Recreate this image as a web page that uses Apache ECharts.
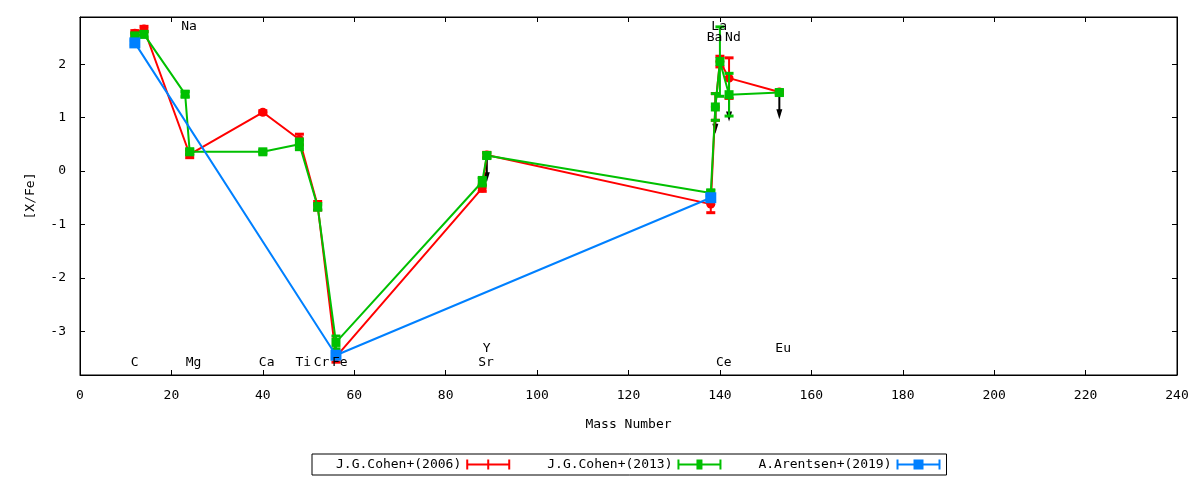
<!DOCTYPE html>
<html>
<head>
<meta charset="utf-8">
<title>[X/Fe] vs Mass Number</title>
<script src="https://cdn.jsdelivr.net/npm/echarts@6/dist/echarts.min.js"></script>
<style>
	html, body { margin: 0; padding: 0; background: #fff; }
	#main { width: 1200px; height: 480px; }
</style>
</head>
<body>
<div id="main"></div>
<script>
// element labels along the top / bottom of the plot
var elemNames = ['C', 'Na', 'Mg', 'Ca', 'Ti', 'Cr', 'Fe', 'Sr', 'Y', 'Ba', 'La', 'Ce', 'Nd', 'Eu'];
var elemMass = [12, 23, 24, 40, 48, 52, 56, 88, 89, 138, 139, 140, 142, 153];
var elemRow = ['bot', 'top', 'bot', 'bot', 'bot', 'bot', 'bot', 'bot', 'bot2', 'top2', 'top', 'bot', 'top2', 'bot2'];

// J.G.Cohen+(2006)
var cohen06Mass = [12, 14, 24, 40, 48, 52, 56, 88, 89, 138, 139, 140, 142, 153];
var cohen06Val = [2.58, 2.66, 0.31, 1.10, 0.59, -0.65, -3.48, -0.32, 0.30, -0.62, 1.20, 2.05, 1.74, 1.48];
var cohen06Err = [0.05, 0.05, 0.06, 0.03, 0.10, 0.08, 0.10, 0.06, 0.05, 0.16, 0.25, 0.10, 0.38, 0.03];

// J.G.Cohen+(2013)
var cohen13Mass = [12, 14, 23, 24, 40, 48, 52, 56, 88, 89, 138, 139, 140, 142, 153];
var cohen13Val = [2.53, 2.56, 1.44, 0.36, 0.36, 0.50, -0.67, -3.21, -0.20, 0.29, -0.41, 1.20, 2.05, 1.43, 1.47];
var cohen13Err = [0.05, 0.05, 0.05, 0.05, 0.03, 0.10, 0.06, 0.12, 0.08, 0.05, 0.05, 0.25, 0.65, 0.40, 0.05];

// A.Arentsen+(2019)
var arentsenMass = [12, 56, 138];
var arentsenVal = [2.40, -3.45, -0.50];
var arentsenErr = [0.04, 0.04, 0.04];

// upper limits (arrows pointing down)
var limitMass = [89, 139, 142, 153];
var limitVal = [0.29, 1.20, 1.43, 1.47];
var limitLen = 0.5;

var yTicks = [-3, -2, -1, 0, 1, 2];

var FONT = '"DejaVu Sans Mono", monospace';
var rowY = { top: 2.70, top2: 2.49, bot: -3.585, bot2: -3.33 };

function zip3(a, b, c) {
	var out = [];
	for (var i = 0; i < a.length; i++) out.push([a[i], b[i], c ? c[i] : 0]);
	return out;
}

function errorBars(color, capHalf) {
	return function (params, api) {
		var x = api.value(0), v = api.value(1), e = api.value(2);
		var hi = api.coord([x, v + e]);
		var lo = api.coord([x, v - e]);
		return {
			type: 'group',
			children: [
				{ type: 'line', shape: { x1: hi[0], y1: hi[1], x2: lo[0], y2: lo[1] }, style: { stroke: color, lineWidth: 2 } },
				{ type: 'line', shape: { x1: hi[0] - capHalf, y1: hi[1], x2: hi[0] + capHalf, y2: hi[1] }, style: { stroke: color, lineWidth: 3 } },
				{ type: 'line', shape: { x1: lo[0] - capHalf, y1: lo[1], x2: lo[0] + capHalf, y2: lo[1] }, style: { stroke: color, lineWidth: 3 } }
			]
		};
	};
}

function lineSeries(name, mass, val, color, symbol, size, z) {
	return {
		name: name,
		type: 'line',
		data: zip3(mass, val).map(function (d) { return [d[0], d[1]]; }),
		symbol: symbol,
		symbolSize: size,
		showAllSymbol: true,
		lineStyle: { color: color, width: 2 },
		itemStyle: { color: color },
		z: z,
		animation: false
	};
}

function errSeries(mass, val, err, color, capHalf, z) {
	return {
		type: 'custom',
		data: zip3(mass, val, err),
		renderItem: errorBars(color, capHalf),
		z: z,
		silent: true,
		animation: false
	};
}

var myChart = echarts.init(document.getElementById('main'));

var iconRed = 'path://M0 0H2V4H21V0H23V4H42V0H44V10H42V6H23V10H21V6H2V10H0Z';
var iconGreen = 'path://M0 0H2V4H19V0H25V4H42V0H44V10H42V6H25V10H19V6H2V10H0Z';
var iconBlue = 'path://M0 0H2V4H17V0H27V4H42V0H44V10H42V6H27V10H17V6H2V10H0Z';

var axisBlack = { onZero: false, lineStyle: { color: '#000' } };
var tickIn = { inside: true, length: 5, lineStyle: { color: '#000' } };

var option = {
	backgroundColor: '#fff',
	animation: false,
	textStyle: { fontFamily: FONT },
	grid: {
		left: 80, right: 23, top: 17, bottom: 105,
		show: true, borderColor: '#000', borderWidth: 1
	},
	legend: {
		left: 312, top: 454,
		orient: 'horizontal',
		align: 'right',
		itemWidth: 44, itemHeight: 10,
		itemGap: 37,
		padding: [4, 6, 4, 24],
		borderColor: '#000', borderWidth: 1,
		textStyle: { fontFamily: FONT, fontSize: 13, color: '#000' },
		selectedMode: false,
		data: [
			{ name: 'J.G.Cohen+(2006)', icon: iconRed, itemStyle: { color: '#ff0000' } },
			{ name: 'J.G.Cohen+(2013)', icon: iconGreen, itemStyle: { color: '#00c000' } },
			{ name: 'A.Arentsen+(2019)', icon: iconBlue, itemStyle: { color: '#0080ff' } }
		]
	},
	xAxis: [{
		type: 'value', min: 0, max: 240, interval: 20,
		name: 'Mass Number', nameLocation: 'middle', nameGap: 43,
		nameTextStyle: { fontFamily: FONT, fontSize: 13, color: '#000' },
		axisLine: axisBlack,
		axisTick: tickIn,
		axisLabel: { margin: 14, fontFamily: FONT, fontSize: 13, color: '#000' },
		splitLine: { show: false }
	}, {
		type: 'value', min: 0, max: 240, interval: 20, position: 'top',
		axisLine: axisBlack,
		axisTick: tickIn,
		axisLabel: { show: false },
		splitLine: { show: false }
	}],
	yAxis: [{
		type: 'value', min: -3.82, max: 2.885,
		name: '[X/Fe]', nameLocation: 'middle', nameGap: 43,
		nameTextStyle: { fontFamily: FONT, fontSize: 13, color: '#000' },
		axisLine: { show: true, onZero: false, lineStyle: { color: '#000' } },
		axisTick: { inside: true, length: 5, customValues: yTicks, lineStyle: { color: '#000' } },
		axisLabel: { margin: 14, customValues: yTicks, fontFamily: FONT, fontSize: 13, color: '#000' },
		splitLine: { show: false }
	}, {
		type: 'value', min: -3.82, max: 2.885, position: 'right',
		axisLine: { show: true, onZero: false, lineStyle: { color: '#000' } },
		axisTick: { inside: true, length: 5, customValues: yTicks, lineStyle: { color: '#000' } },
		axisLabel: { show: false, customValues: yTicks },
		splitLine: { show: false }
	}],
	series: [
		{
			type: 'custom',
			data: zip3(limitMass, limitVal),
			z: 1,
			silent: true,
			renderItem: function (params, api) {
				var x = api.value(0), v = api.value(1);
				var p1 = api.coord([x, v]);
				var p2 = api.coord([x, v - limitLen]);
				return {
					type: 'group',
					children: [
						{ type: 'line', shape: { x1: p1[0], y1: p1[1], x2: p2[0], y2: p2[1] - 6 }, style: { stroke: '#000', lineWidth: 2 } },
						{ type: 'polygon', shape: { points: [[p2[0] - 3, p2[1] - 10], [p2[0] + 3, p2[1] - 10], [p2[0], p2[1]]] }, style: { fill: '#000' } }
					]
				};
			}
		},
		lineSeries('J.G.Cohen+(2006)', cohen06Mass, cohen06Val, '#ff0000', 'circle', 9, 2),
		errSeries(cohen06Mass, cohen06Val, cohen06Err, '#ff0000', 4.5, 2),
		lineSeries('J.G.Cohen+(2013)', cohen13Mass, cohen13Val, '#00c000', 'rect', 9, 3),
		errSeries(cohen13Mass, cohen13Val, cohen13Err, '#00c000', 4.5, 3),
		lineSeries('A.Arentsen+(2019)', arentsenMass, arentsenVal, '#0080ff', 'rect', 11, 4),
		errSeries(arentsenMass, arentsenVal, arentsenErr, '#0080ff', 5, 4),
		{
			type: 'custom',
			data: elemMass.map(function (m, i) { return [m, rowY[elemRow[i]]]; }),
			z: 5,
			silent: true,
			renderItem: function (params, api) {
				var p = api.coord([api.value(0), api.value(1)]);
				return {
					type: 'text',
					x: p[0] - 4, y: p[1],
					style: {
						text: elemNames[params.dataIndex],
						fill: '#000',
						font: '13px ' + FONT,
						textAlign: 'left',
						textVerticalAlign: 'middle'
					}
				};
			}
		}
	]
};

myChart.setOption(option);
</script>
</body>
</html>
